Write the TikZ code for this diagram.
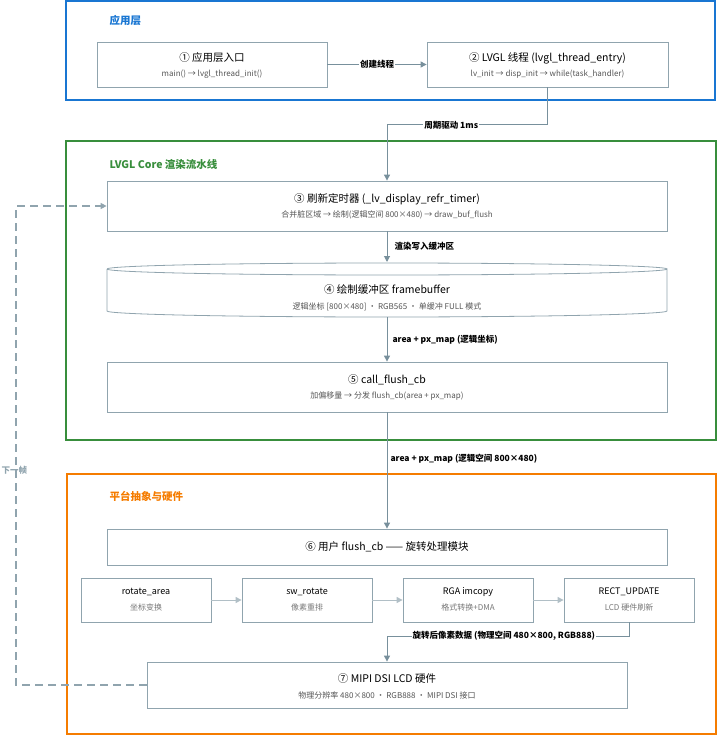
\documentclass[tikz,border=0pt]{standalone}
\usepackage{fontspec}
\setmainfont{Noto Sans CJK SC}
\usetikzlibrary{arrows.meta,positioning}
\definecolor{blueL}{HTML}{1976D2}
\definecolor{greenL}{HTML}{388E3C}
\definecolor{orangeL}{HTML}{F57C00}
\definecolor{boxline}{HTML}{90A4AE}
\definecolor{arrline}{HTML}{78909C}
\definecolor{subtext}{HTML}{555555}
\begin{document}
\begin{tikzpicture}[x=1pt,y=-1pt,
  layer/.style={draw, line width=1.5pt},
  title/.style={anchor=west, font=\bfseries\fontsize{10.5}{12}\selectfont},
  blk/.style={draw=boxline, fill=white, line width=0.8pt, inner sep=0pt},
  main/.style={font=\fontsize{10.5}{12}\selectfont},
  sub/.style={font=\fontsize{8}{9}\selectfont, text=subtext},
  conn/.style={draw=arrline, line width=1pt, -{Triangle[length=6pt,width=6pt]}},
  light/.style={draw=boxline!70, line width=1pt, -{Triangle[length=6pt,width=6pt]}},
  lbl/.style={font=\bfseries\fontsize{8.5}{10}\selectfont, fill=white, inner sep=1pt}]
  \useasboundingbox (0,0) rectangle (718,735);
  % layers
  \draw[layer, blueL] (66,1) rectangle (715,100);
  \node[title, text=blueL] at (106,21) {应用层};
  \draw[layer, greenL] (66,141) rectangle (716,440);
  \node[title, text=greenL] at (106,164) {LVGL Core 渲染流水线};
  \draw[layer, orangeL] (67,474) rectangle (716,734);
  \node[title, text=orangeL] at (106,496) {平台抽象与硬件};
  % nodes
  \node[blk, minimum width=230pt, minimum height=45pt] (entry) at (212,64.5) {};
  \node[main] at (212,58) {① 应用层入口};
  \node[sub] at (212,74) {main() → lvgl\_thread\_init()};
  \node[blk, minimum width=241pt, minimum height=45pt] (thread) at (547.5,64.5) {};
  \node[main] at (547.5,58) {② LVGL 线程 (lvgl\_thread\_entry)};
  \node[sub] at (547.5,74) {lv\_init → disp\_init → while(task\_handler)};
  \node[blk, minimum width=560pt, minimum height=50pt] (timer) at (387,206) {};
  \node[main] at (387,199) {③ 刷新定时器 (\_lv\_display\_refr\_timer)};
  \node[sub] at (387,215) {合并脏区域 → 绘制(逻辑空间 800×480) → draw\_buf\_flush};
  % framebuffer cylinder
  \coordinate (fbtop) at (387,262);
  \coordinate (fbbot) at (387,317);
  \draw[boxline, fill=white, line width=0.8pt] (107,269) -- (107,311) arc[start angle=180, end angle=360, x radius=280pt, y radius=6pt] -- (667,269) arc[start angle=0, end angle=-180, x radius=280pt, y radius=6pt];
  \draw[boxline, line width=0.8pt] (107,269) arc[start angle=180, end angle=0, x radius=280pt, y radius=6pt];
  \node[main] at (387,290) {④ 绘制缓冲区 framebuffer};
  \node[sub] at (387,307) {逻辑坐标 [800×480] · RGB565 · 单缓冲 FULL 模式};
  \node[blk, minimum width=560pt, minimum height=50pt] (flush) at (387,387) {};
  \node[main] at (387,380) {⑤ call\_flush\_cb};
  \node[sub] at (387,396) {加偏移量 → 分发 flush\_cb(area + px\_map)};
  \node[blk, minimum width=560pt, minimum height=36pt] (usercb) at (387,547) {\fontsize{10.5}{12}\selectfont ⑥ 用户 flush\_cb —— 旋转处理模块};
  \foreach \name/\x/\top/\bot in {rarea/146/rotate\_area/坐标变换, swrot/307/sw\_rotate/像素重排, rga/468/RGA imcopy/格式转换+DMA, rect/629/RECT\_UPDATE/LCD 硬件刷新} {
    \node[blk, minimum width=130pt, minimum height=44pt] (\name) at (\x,600) {};
    \node[font=\fontsize{9}{10}\selectfont] at (\x,592) {\top};
    \node[sub, text=subtext!80] at (\x,607) {\bot};
  }
  \node[blk, minimum width=480pt, minimum height=46pt] (lcd) at (387,685) {};
  \node[main] at (387,679) {⑦ MIPI DSI LCD 硬件};
  \node[sub] at (387,695) {物理分辨率 480×800 · RGB888 · MIPI DSI 接口};
  % connectors
  \draw[conn] (entry) -- node[lbl] {创建线程} (thread);
  \draw[conn] (thread.south) |- (387,125) node[lbl, pos=0.8] {周期驱动 1ms} -- (timer.north);
  \draw[conn] (timer.south) -- node[lbl, anchor=west, xshift=6pt] {渲染写入缓冲区} (fbtop);
  \draw[conn] (fbbot) -- node[lbl, anchor=west, xshift=4pt] {area + px\_map (逻辑坐标)} (flush.north);
  \draw[conn] (flush.south) -- node[lbl, anchor=west, xshift=2pt, pos=0.4] {area + px\_map (逻辑空间 800×480)} (usercb.north);
  \draw[light] (rarea) -- (swrot);
  \draw[light] (swrot) -- (rga);
  \draw[light] (rga) -- (rect);
  \draw[conn] (rect.south) |- (387,636) node[lbl, anchor=west, pos=0.95] {旋转后像素数据 (物理空间 480×800, RGB888)} -- (lcd.north);
  \draw[conn, dashed, dash pattern=on 8pt off 5pt, line width=1.5pt, boxline] (lcd.west) -| (16,206) node[lbl, pos=0.73, anchor=north west, xshift=-16pt, fill=none] {下一帧} -- (timer.west);
\end{tikzpicture}
\end{document}
